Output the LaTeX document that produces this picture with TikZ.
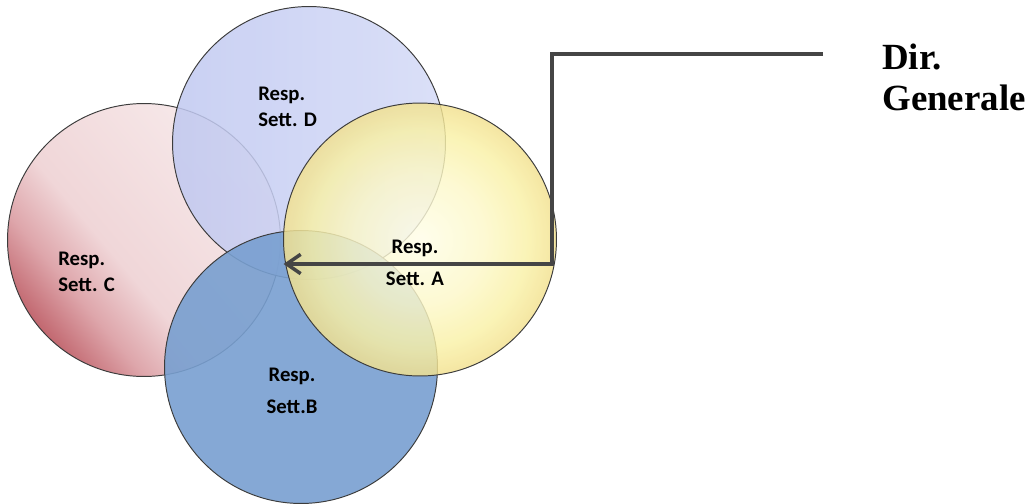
\documentclass[tikz,border=0pt]{standalone}
\usepackage{fontspec}
\setmainfont{Liberation Serif}
\newfontfamily\calib{Carlito}
\usetikzlibrary{arrows.meta, positioning}
\definecolor{edgegray}{HTML}{3C3C3C}
\definecolor{lineg}{HTML}{454545}
\definecolor{lavA}{HTML}{C0C8F0}
\definecolor{lavB}{HTML}{D4DAF7}
\definecolor{steel}{HTML}{789FD0}
\pgfdeclareverticalshading{pinkfade}{100bp}{%
  color(0bp)=(rgb,255:red,192;green,100;blue,108);
  color(25bp)=(rgb,255:red,194;green,104;blue,112);
  color(34bp)=(rgb,255:red,222;green,166;blue,171);
  color(44bp)=(rgb,255:red,240;green,214;blue,216);
  color(75bp)=(rgb,255:red,247;green,234;blue,235);
  color(100bp)=(rgb,255:red,247;green,234;blue,235)}
\pgfdeclareradialshading{yelglow}{\pgfpoint{0bp}{0bp}}{%
  color(0bp)=(rgb,255:red,255;green,253;blue,232);
  color(12bp)=(rgb,255:red,252;green,248;blue,200);
  color(20bp)=(rgb,255:red,249;green,240;blue,165);
  color(25bp)=(rgb,255:red,242;green,224;blue,142);
  color(50bp)=(rgb,255:red,242;green,224;blue,142)}

\begin{document}
\begin{tikzpicture}[x=0.02cm, y=-0.02cm,
    sect/.style={circle, draw=edgegray, line width=0.55pt, inner sep=0pt, outer sep=0pt, minimum size=5.46cm},
    lbl/.style={font=\calib\bfseries\fontsize{11.8}{14.5}\selectfont, text=black, align=center, inner sep=0pt},
    link/.style={draw=lineg, line width=2pt, -{Straight Barb[length=8pt, width=11pt, line width=2pt]}}]
  \useasboundingbox (0,0) rectangle (1032,504);

  % Circles, back to front
  \node[sect, shading=pinkfade, shading angle=-50] (secC) at (144,240) {};
  \node[sect, left color=lavA, right color=lavB, fill opacity=0.85] (secD) at (309,143) {};
  \node[sect, fill=steel, fill opacity=0.9] (secB) at (301,367) {};
  \node[sect, shading=yelglow, fill opacity=0.82] (secA) at (420,239.5) {};

  % Labels
  \node[lbl, align=left, anchor=west] (lblD) at (258,107) {Resp.\\Sett. D};
  \node[lbl, align=left, anchor=west] (lblC) at (58,272) {Resp.\\Sett. C};
  \node[lbl] (lblA) at (415,263) {Resp.\\[4pt]Sett. A};
  \node[lbl] (lblB) at (292,391) {Resp.\\[4pt]Sett.B};

  % Director
  \node[font=\bfseries\fontsize{21}{23}\selectfont, align=left, anchor=north west, inner sep=0pt] (dg) at (882,44) {Dir.\\Generale};
  \coordinate (dgIn) at (823,54);
  \coordinate (bend) at (552,264);
  \draw[link] (dgIn) -| (bend) -- (secA.west |- bend);
\end{tikzpicture}
\end{document}
